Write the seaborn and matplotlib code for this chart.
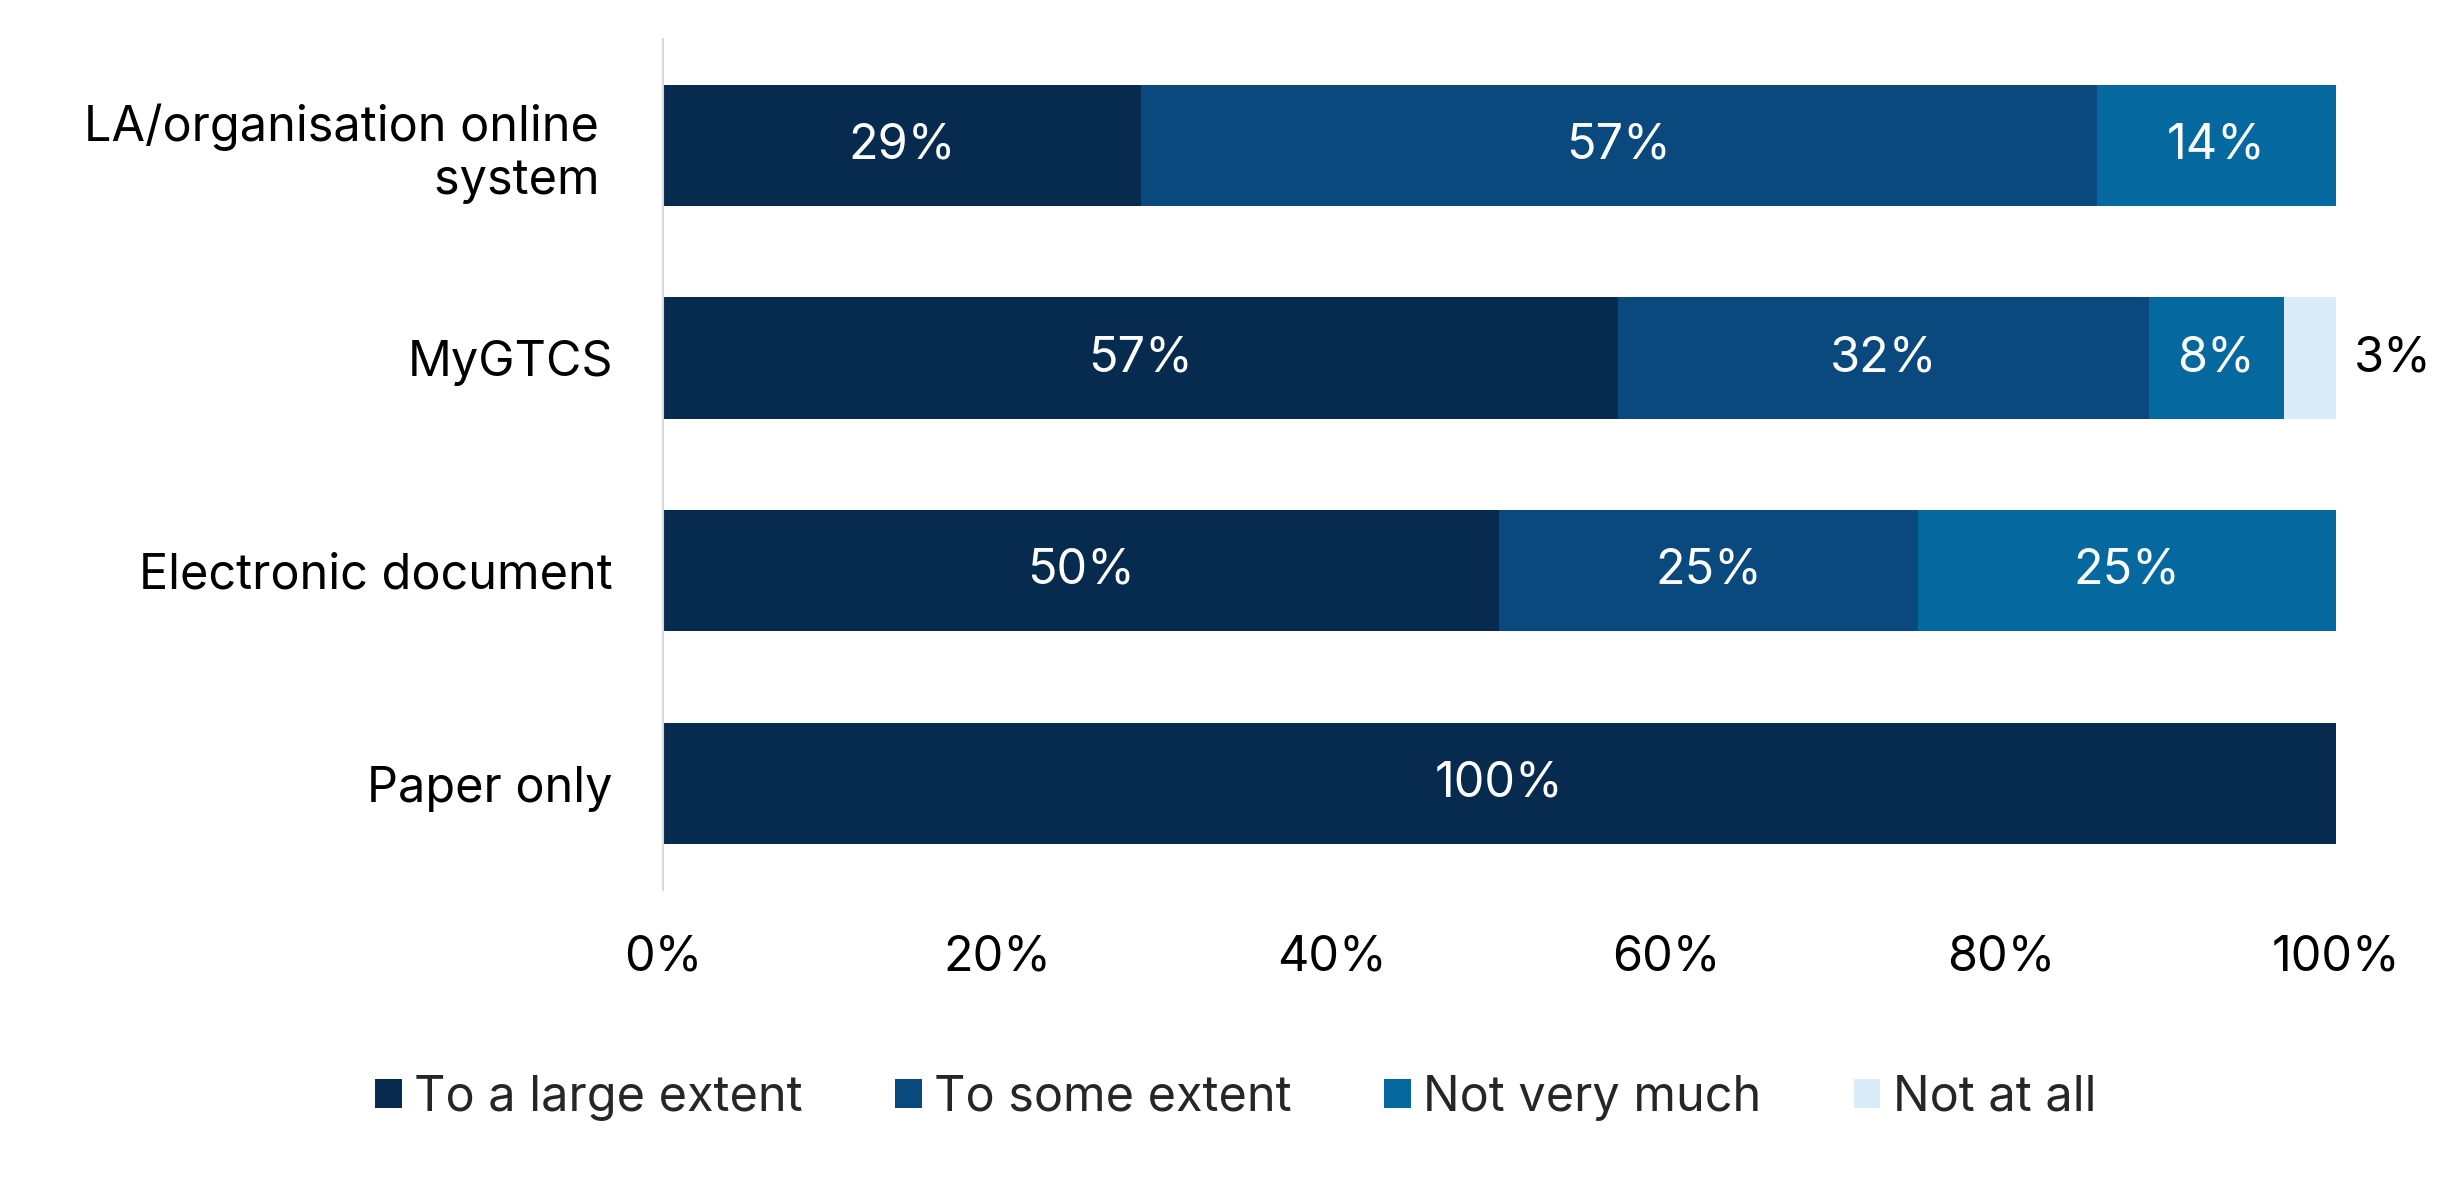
import numpy as np
import pandas as pd
import seaborn as sns
import matplotlib.pyplot as plt
from matplotlib.patches import Patch

categories = ['LA/organisation online \nsystem ', 'MyGTCS', 'Electronic document', 'Paper only']
responses = ['To a large extent', 'To some extent', 'Not very much', 'Not at all']
large = [28.6, 57.1, 50.0, 100.0]
some = [57.1, 31.7, 25.0, 0.0]
not_much = [14.3, 8.1, 25.0, 0.0]
not_at_all = [0.0, 3.1, 0.0, 0.0]
colours = ['#072B4F', '#0A497D', '#0569A0', '#DAECF9']

sns.set_theme(style='white')
plt.rcParams['font.family'] = ['Inter', 'DejaVu Sans']
fs = 35

df = pd.DataFrame({'cat': categories, responses[0]: large, responses[1]: some,
                   responses[2]: not_much, responses[3]: not_at_all})
cum = df[responses].cumsum(axis=1)

fig = plt.figure(figsize=(24.47, 11.78), dpi=100)
ax = fig.add_axes([0.2709, 0.2445, 0.6837, 0.7224])

# draw from the full stack down so every segment shows
for r, c in reversed(list(zip(responses, colours))):
    sns.barplot(x=cum[r], y=df['cat'], color=c, width=0.57, linewidth=0,
                saturation=1, ax=ax, orient='h')

for i in range(len(categories)):
    for j, r in enumerate(responses):
        v = df[r][i]
        if v <= 0:
            continue
        mid = cum[r][i] - v / 2
        if v < 5:
            ax.text(101.1, i, f'{v:.0f}%', ha='left', va='center', fontsize=fs, color='black')
        else:
            ax.text(mid, i, f'{v:.0f}%', ha='center', va='center', fontsize=fs, color='white')

ax.set_xlim(0, 100)
ax.set_ylim(3.5, -0.5)
ax.set_xticks(np.arange(0, 101, 20))
ax.set_xticklabels([f'{t}%' for t in range(0, 101, 20)])
ax.set_xlabel('')
ax.set_ylabel('')
ax.tick_params(axis='both', length=0, labelsize=fs, colors='black')
ax.tick_params(axis='y', pad=36)
ax.tick_params(axis='x', pad=32)
for lab in ax.get_yticklabels():
    lab.set_multialignment('right')
for s in ['top', 'right', 'bottom']:
    ax.spines[s].set_visible(False)
ax.spines['left'].set_color('#D9D9D9')
ax.spines['left'].set_linewidth(1.5)

handles = [Patch(facecolor=c, edgecolor='none', label=r) for r, c in zip(responses, colours)]
fig.legend(handles=handles, loc='center', bbox_to_anchor=(0.505, 0.068), ncol=4,
           frameon=False, fontsize=fs, handlelength=0.55, handleheight=0.55,
           handletextpad=0.25, columnspacing=1.9)

fig.savefig('out.png', dpi=100)
